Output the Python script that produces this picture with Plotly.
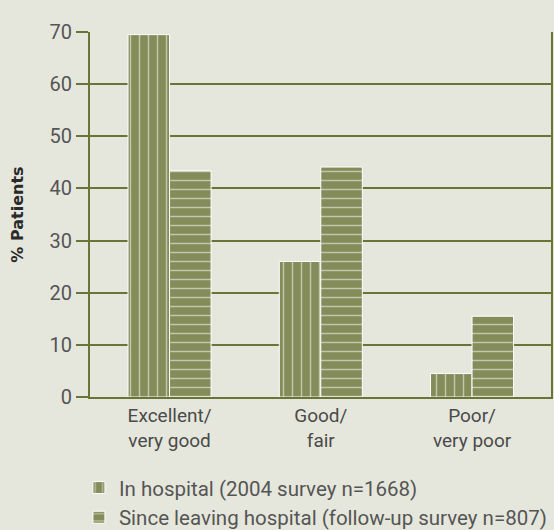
import plotly.graph_objects as go

categories = ["Excellent/<br>very good", "Good/<br>fair", "Poor/<br>very poor"]
in_hospital = [69.5, 26, 4.5]
since_leaving = [43.4, 44.1, 15.5]
series_names = ["In hospital (2004 survey n=1668)",
                "Since leaving hospital (follow-up survey n=807)"]
y_ticks = [0, 10, 20, 30, 40, 50, 60, 70]

bar_color = "#848c5a"
grid_color = "#6b7434"
bg = "#e6e7dc"
font_fam = "Roboto, 'DejaVu Sans', sans-serif"

fig = go.Figure()
fig.add_trace(go.Bar(
    x=categories, y=in_hospital, name=series_names[0],
    marker=dict(color=bar_color, line=dict(color="white", width=1),
                pattern=dict(shape="|", fgcolor="white", bgcolor=bar_color,
                             size=9, solidity=0.16)),
))
fig.add_trace(go.Bar(
    x=categories, y=since_leaving, name=series_names[1],
    marker=dict(color=bar_color, line=dict(color="white", width=1),
                pattern=dict(shape="-", fgcolor="white", bgcolor=bar_color,
                             size=9, solidity=0.16)),
))

fig.update_layout(
    width=554, height=530,
    paper_bgcolor=bg, plot_bgcolor=bg,
    margin=dict(l=90, r=3, t=32, b=0, autoexpand=False),
    barmode="group", bargap=0.451, bargroupgap=0,
    font=dict(family=font_fam, color="#555555", size=20),
    showlegend=True,
    legend=dict(orientation="v", x=-0.024, y=0.125, xanchor="left", yanchor="top",
                font=dict(size=20.5, color="#555555"), bgcolor="rgba(0,0,0,0)",
                tracegroupgap=0, itemwidth=30),
    xaxis=dict(range=[-0.526, 2.522], showline=True, linecolor=grid_color, linewidth=2,
               showgrid=False, ticks="", automargin=False,
               tickfont=dict(size=19, color="#4a4a4a")),
    yaxis=dict(range=[0, 70], tickvals=y_ticks, showgrid=True,
               domain=[0.267, 1], automargin=False,
               gridcolor=grid_color, gridwidth=2, showline=True,
               linecolor=grid_color, linewidth=2, mirror=True,
               ticks="outside", ticklen=12, tickcolor=grid_color, tickwidth=2,
               zeroline=False,
               tickfont=dict(size=20, color="#555555"),
               title=dict(text="% Patients",
                          font=dict(size=16, color="#2a2a2a",
                                    family="'DejaVu Sans', sans-serif", weight="bold"),
                          standoff=22)),
)

fig.write_html("out.html",
               config={"displayModeBar": False},
               post_script="document.body.style.margin='0';"
                           "document.body.style.background='#e6e7dc';")
